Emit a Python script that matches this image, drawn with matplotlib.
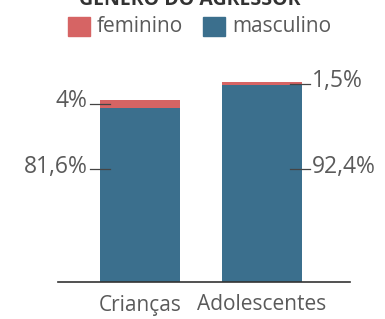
import matplotlib.pyplot as plt
from matplotlib.patches import Rectangle

categorias = ['Crianças', 'Adolescentes']
masculino = [81.6, 92.4]
feminino = [4.0, 1.5]
rot_masc = ['81,6%', '92,4%']
rot_fem = ['4%', '1,5%']

azul = '#3b6f8d'
vermelho = '#d66464'
cinza = '#5a5a5a'

plt.rcParams['font.family'] = ['Open Sans', 'DejaVu Sans']

W, H = 385, 319
fig = plt.figure(figsize=(W / 100, H / 100), dpi=100)

# axes in pixel coordinates
ax_l, ax_r, ax_b, ax_t = 58, 350, 282, 40
ax = fig.add_axes([ax_l / W, 1 - ax_b / H, (ax_r - ax_l) / W, (ax_b - ax_t) / H])

x = [0, 1]
ax.bar(x, masculino, width=0.656, color=azul)
ax.bar(x, feminino, bottom=masculino, width=0.656, color=vermelho)

ax.set_xlim(-0.672, 1.721)
ax.set_ylim(0, 113.6)
for s in ['top', 'right', 'left']:
    ax.spines[s].set_visible(False)
ax.spines['bottom'].set_color('#333333')
ax.spines['bottom'].set_linewidth(1.2)
ax.set_yticks([])
ax.set_xticks(x)
ax.set_xticklabels(categorias, fontsize=15, color=cinza)
ax.tick_params(axis='x', length=0, pad=9)
ax.get_xticklabels()[1].set_x(1.03)

# annotations
y_masc = 53
lados = [(-0.41, -0.246, -0.43, 'right'), (1.23, 1.39, 1.41, 'left')]
for i in range(2):
    x0, x1, xt, ha = lados[i]
    yf = masculino[i] + feminino[i] / 2
    ax.plot([x0, x1], [yf, yf], color='#444444', lw=0.9, clip_on=False)
    ax.text(xt, yf + 1.2, rot_fem[i], ha=ha, va='center', fontsize=16.5, color=cinza)
    ax.plot([x0, x1], [y_masc, y_masc], color='#444444', lw=0.9, clip_on=False)
    ax.text(xt, y_masc + 1.0, rot_masc[i], ha=ha, va='center', fontsize=16.5, color=cinza)

# legend
for px, cor, nome in [(68, vermelho, 'feminino'), (203, azul, 'masculino')]:
    fig.patches.append(Rectangle((px / W, 1 - 36 / H), 22 / W, 19 / H,
                                 transform=fig.transFigure, color=cor))
    fig.text((px + 29) / W, 1 - 27 / H, nome, ha='left', va='center',
             fontsize=15, color=cinza)

fig.text(190 / W, 1.0, 'GÊNERO DO AGRESSOR', ha='center', va='center',
         fontsize=14, fontweight='bold', color='#333333')

fig.savefig('out.png', dpi=100)
